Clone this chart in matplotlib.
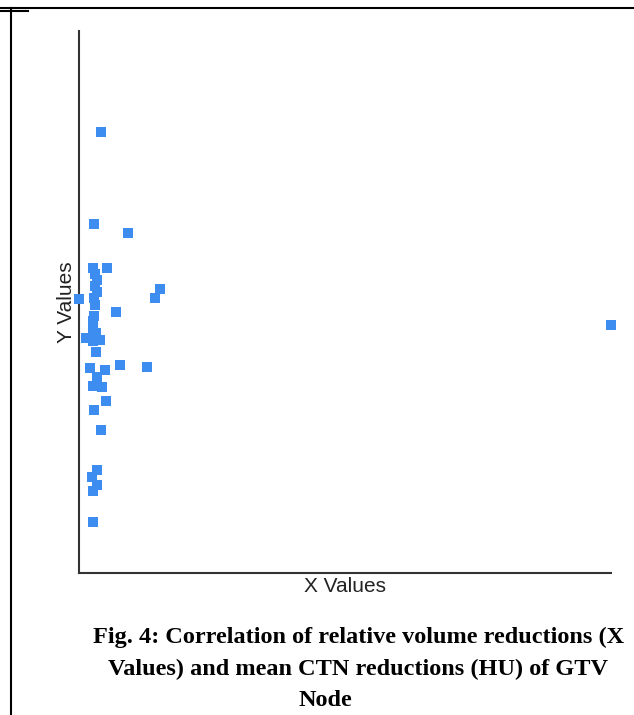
import matplotlib.pyplot as plt
from matplotlib.lines import Line2D

# values (x: relative volume reduction, y: mean CTN reduction)
x_values = [0.041, 0.028, 0.092, 0.026, 0.053, 0.030, 0.034, 0.030, 0.034, 0.028,
            0.000, 0.143, 0.152, 0.030, 0.070, 0.028, 0.026, 0.026, 0.032, 0.013,
            0.039, 0.026, 0.032, 0.077, 0.128, 0.021, 0.049, 0.034, 0.026, 0.043,
            0.051, 0.028, 0.041, 0.034, 0.024, 0.034, 0.026, 0.026, 1.000]
y_values = [80.9, 64.0, 62.4, 56.0, 56.0, 54.9, 53.8, 52.7, 51.6, 50.5,
            50.3, 50.5, 52.1, 49.2, 47.9, 47.2, 46.2, 45.0, 44.0, 43.1,
            42.8, 42.6, 40.6, 38.2, 37.8, 37.6, 37.2, 36.0, 34.3, 34.1,
            31.6, 29.9, 26.2, 18.9, 17.6, 16.1, 15.0, 9.4, 45.5]

caption = ["Fig. 4: Correlation of relative volume reductions (X",
           "Values) and mean CTN reductions (HU) of GTV",
           "Node"]
caption_x = [359, 358, 325]

fig = plt.figure(figsize=(6.34, 7.15), dpi=100)
ax = fig.add_axes([79 / 634, 142 / 715, 532 / 634, 542 / 715])

ax.scatter(x_values, y_values, marker="s", s=50, color="#3d8cf0",
           linewidths=0, clip_on=False, zorder=3)
ax.set_xlim(0, 1)
ax.set_ylim(0, 99.5)

for side in ["top", "right"]:
    ax.spines[side].set_visible(False)
for side in ["left", "bottom"]:
    ax.spines[side].set_color("#333333")
    ax.spines[side].set_linewidth(1.5)
ax.set_xticks([])
ax.set_yticks([])

ax.set_xlabel("X Values", family="Liberation Sans", fontsize=15,
              color="#222222", labelpad=3)
ax.set_ylabel("Y Values", family="Liberation Sans", fontsize=15,
              color="#222222", labelpad=2)

# table cell border around the figure
top = 1 - 8 / 715
fig.add_artist(Line2D([0, 1], [top, top], color="black", lw=1.5))
fig.add_artist(Line2D([0, 28 / 634], [1 - 11 / 715, 1 - 11 / 715], color="black", lw=1.5))
fig.add_artist(Line2D([11 / 634, 11 / 634], [0, top], color="black", lw=1.5))

for i, line in enumerate(caption):
    fig.text(caption_x[i] / 634, 1 - (637 + 32 * i) / 715, line, ha="center", va="center",
             family="Liberation Serif", fontweight="bold", fontsize=17.5)

fig.savefig("out.png", dpi=100)
